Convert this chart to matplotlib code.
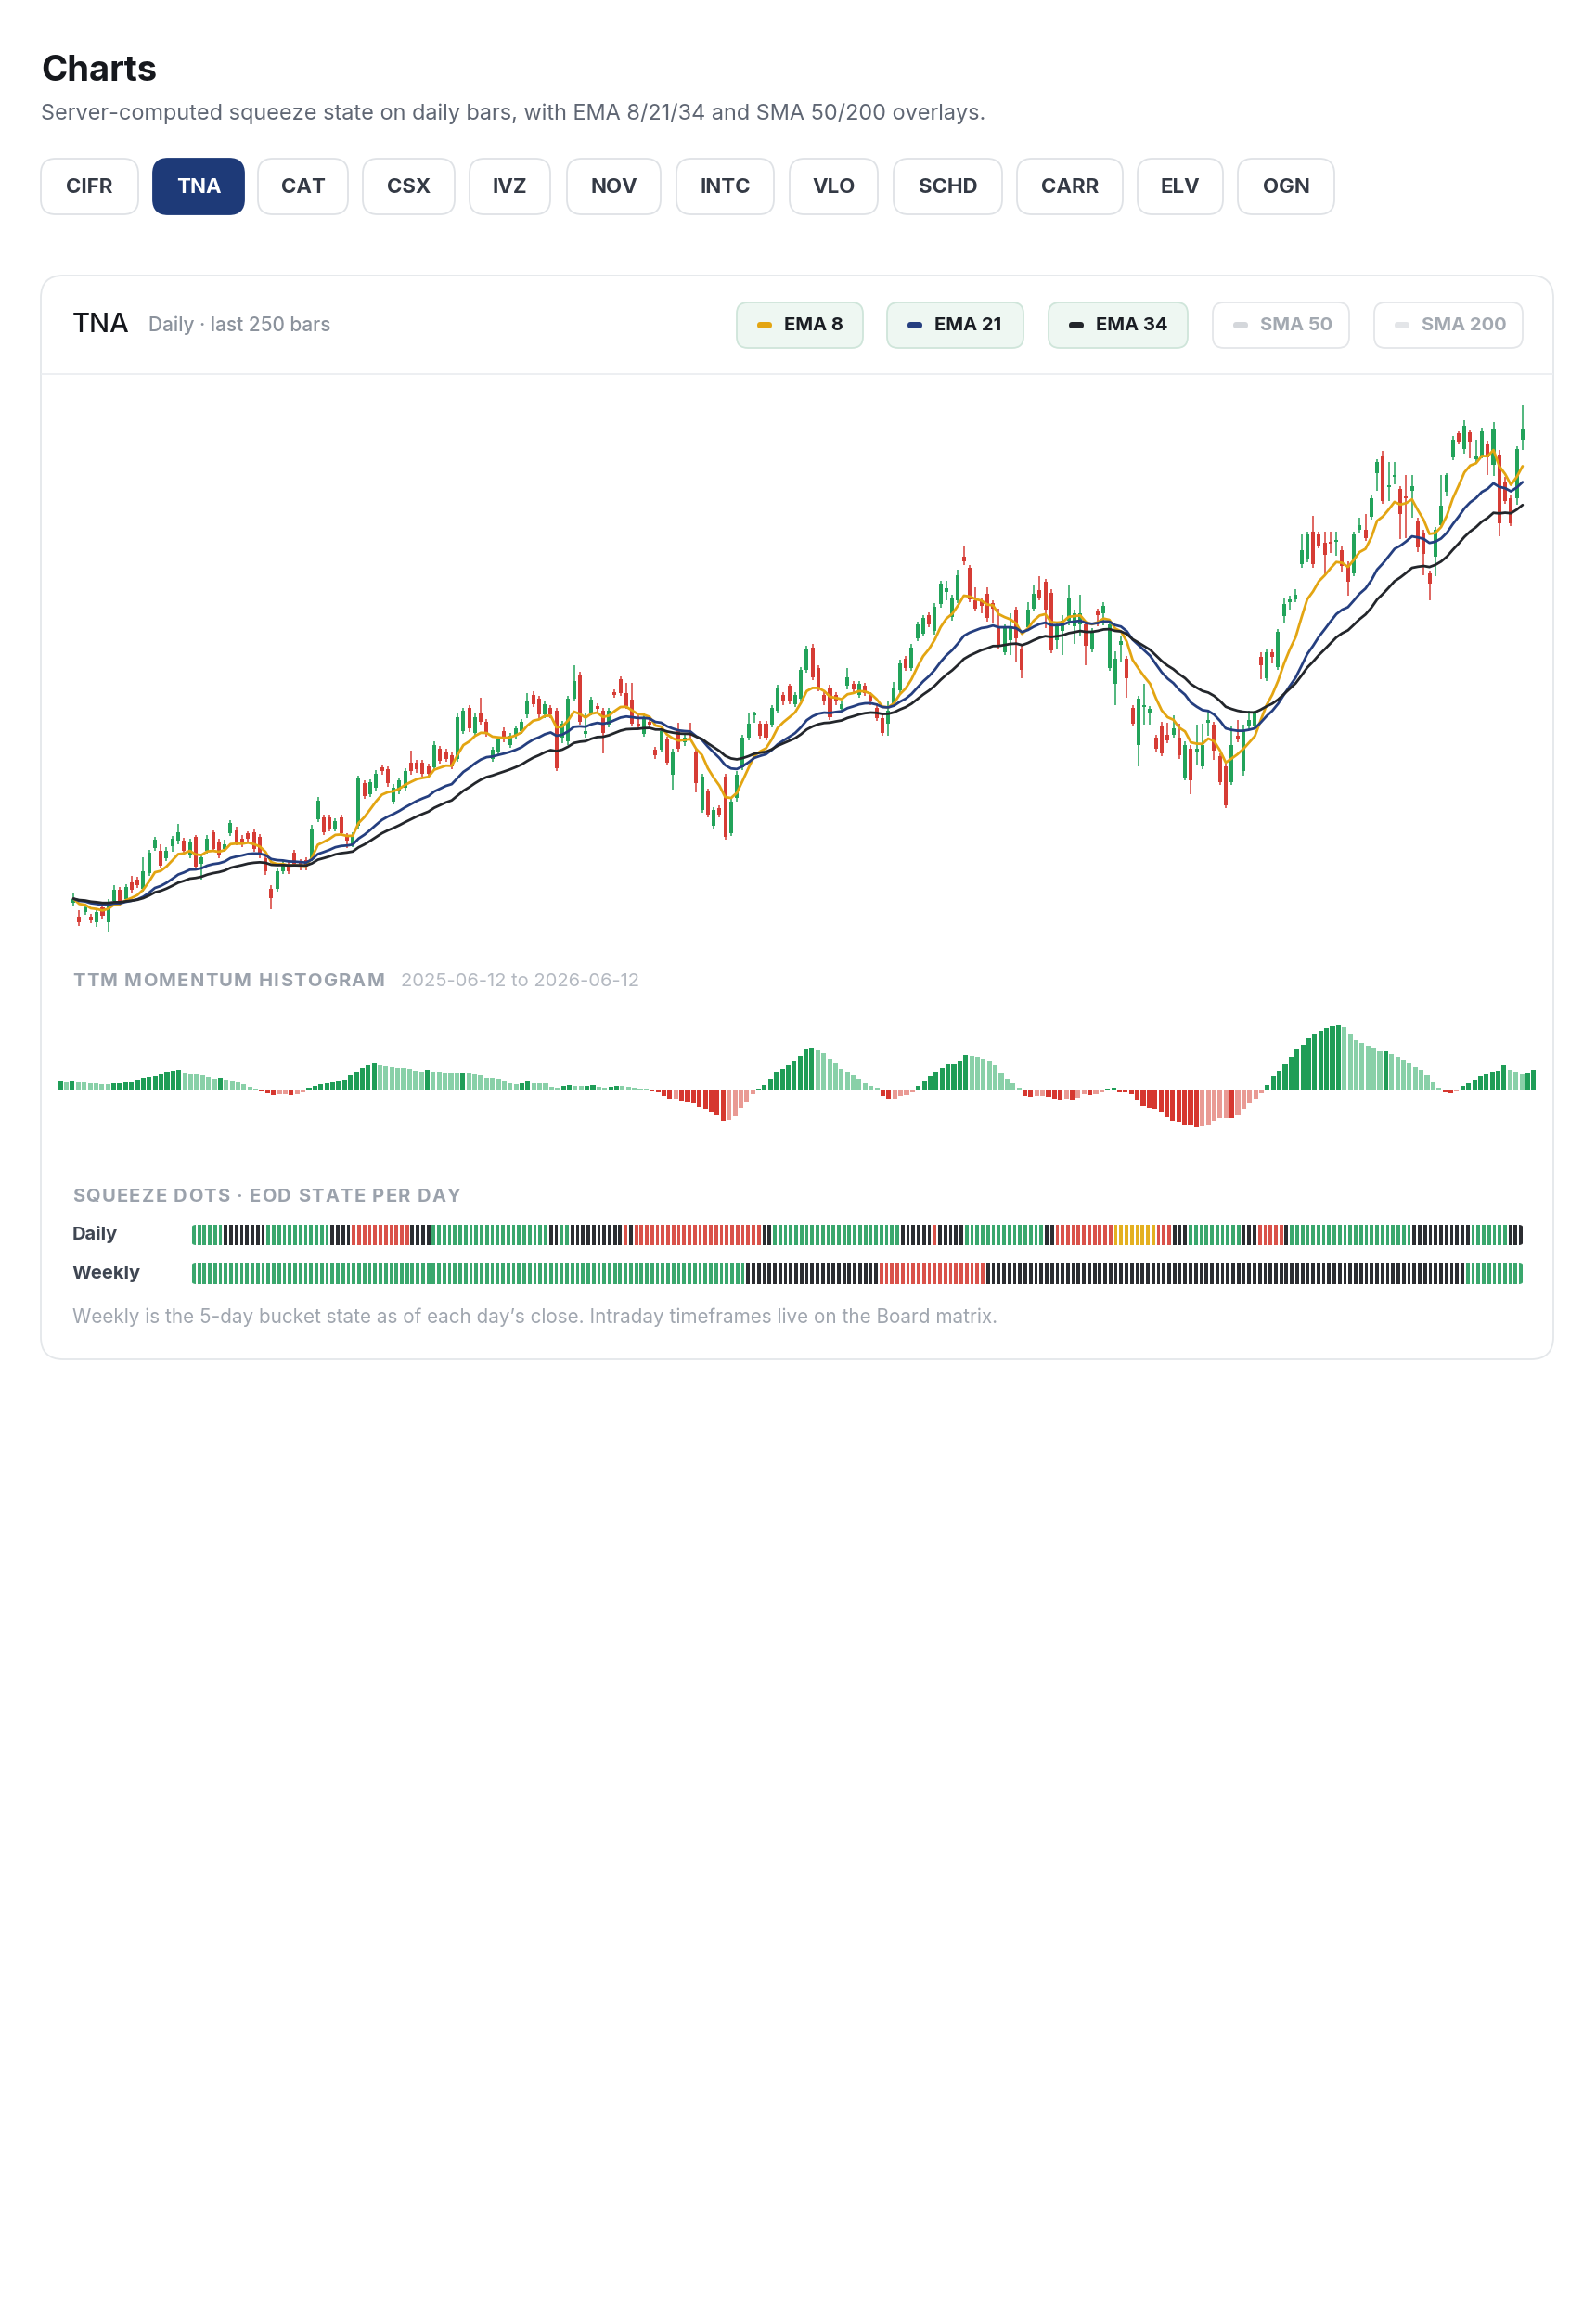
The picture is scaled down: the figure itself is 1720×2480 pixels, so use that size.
import matplotlib
matplotlib.use('Agg')
import matplotlib.pyplot as plt
from matplotlib.patches import FancyBboxPatch
import numpy as np
import pandas as pd

plt.rcParams['font.family'] = ['Inter', 'DejaVu Sans']

# ---------------- data ----------------
ticker = 'TNA'
tickers = ['CIFR', 'TNA', 'CAT', 'CSX', 'IVZ', 'NOV', 'INTC', 'VLO', 'SCHD', 'CARR', 'ELV', 'OGN']
date_range = '2025-06-12 to 2026-06-12'

opens = [36.4, 35.0, 35.5, 35.0, 34.4, 35.9, 34.4, 36.6, 37.7, 36.8,
         38.4, 38.7, 37.8, 39.4, 41.9, 41.6, 40.9, 42.1, 42.6, 42.6,
         41.2, 43.0, 40.3, 41.6, 43.5, 42.5, 41.8, 43.4, 43.7, 42.8,
         43.4, 43.5, 43.0, 40.9, 37.8, 37.8, 39.6, 40.3, 41.4, 40.5,
         40.7, 40.9, 44.8, 45.0, 45.0, 43.9, 45.0, 43.1, 42.3, 44.1,
         48.4, 47.3, 48.0, 50.0, 49.8, 46.6, 47.6, 48.0, 50.5, 50.5,
         50.5, 50.1, 50.0, 51.9, 51.6, 51.2, 50.9, 53.7, 56.0, 53.5,
         55.5, 54.6, 50.9, 51.6, 53.7, 52.3, 53.2, 53.7, 55.3, 57.3,
         56.9, 55.3, 56.0, 55.7, 53.0, 52.6, 56.9, 59.3, 53.4, 55.5,
         56.2, 55.7, 54.3, 57.6, 58.9, 57.5, 56.8, 54.4, 53.4, 54.6,
         51.8, 51.8, 52.8, 49.3, 53.7, 52.5, 53.7, 51.6, 45.7, 47.6,
         44.1, 45.9, 49.1, 43.4, 46.9, 50.0, 53.0, 55.2, 54.4, 54.4,
         54.3, 55.7, 57.3, 58.2, 56.4, 56.9, 59.8, 62.1, 60.0, 57.3,
         58.0, 57.3, 55.9, 58.2, 58.4, 57.3, 58.2, 57.3, 56.0, 55.0,
         54.4, 56.4, 57.8, 60.9, 60.0, 63.0, 63.5, 65.3, 63.7, 66.4,
         67.7, 65.1, 66.8, 71.2, 70.1, 66.8, 66.8, 67.5, 66.5, 64.1,
         61.6, 62.8, 65.9, 61.9, 64.1, 66.0, 67.8, 68.7, 67.6, 62.8,
         63.7, 64.8, 64.2, 64.4, 64.4, 61.9, 65.7, 65.5, 60.0, 58.4,
         62.3, 60.9, 56.0, 52.3, 56.1, 55.5, 53.0, 54.1, 53.3, 53.3,
         53.0, 49.0, 51.9, 51.6, 50.1, 54.5, 54.3, 51.1, 50.1, 48.5,
         53.2, 49.6, 54.1, 54.1, 61.1, 59.0, 61.6, 60.1, 65.2, 66.6,
         66.9, 70.5, 70.9, 73.7, 73.4, 72.6, 72.7, 72.7, 71.9, 70.3,
         69.5, 73.9, 73.9, 75.2, 79.6, 81.4, 78.2, 79.2, 78.0, 77.3,
         77.8, 74.8, 73.6, 69.5, 71.2, 74.4, 77.7, 81.2, 83.6, 82.0,
         83.7, 81.0, 81.4, 82.5, 80.4, 81.5, 78.8, 77.1, 77.1, 83.0]

highs = [37.3, 35.6, 36.1, 35.3, 35.8, 36.3, 36.8, 38.2, 38.0, 38.3,
         39.1, 39.0, 41.0, 41.7, 43.0, 42.3, 42.0, 43.1, 44.3, 42.9,
         42.8, 43.2, 41.3, 43.2, 43.7, 42.8, 42.7, 44.7, 44.0, 43.2,
         43.6, 43.8, 43.3, 41.3, 38.2, 39.9, 40.6, 40.6, 41.7, 40.8,
         41.0, 44.2, 47.0, 45.3, 45.3, 44.9, 45.3, 43.4, 43.5, 49.2,
         48.7, 48.8, 49.7, 50.3, 50.1, 48.3, 49.0, 49.9, 51.7, 50.8,
         50.8, 50.4, 52.6, 52.2, 51.9, 51.5, 55.4, 56.0, 56.3, 55.4,
         57.0, 54.9, 52.1, 53.1, 54.0, 53.5, 54.2, 54.9, 57.5, 57.7,
         57.2, 56.7, 56.3, 56.0, 54.7, 57.2, 60.3, 59.6, 55.5, 57.1,
         56.5, 56.0, 56.0, 57.9, 59.2, 58.5, 58.5, 55.5, 55.4, 54.9,
         52.1, 54.0, 53.1, 51.9, 54.5, 53.3, 54.5, 51.9, 49.4, 47.9,
         46.0, 46.2, 49.4, 46.9, 49.6, 53.3, 55.5, 55.6, 54.7, 54.7,
         56.3, 58.3, 57.6, 58.4, 57.6, 60.1, 62.2, 62.4, 60.3, 57.6,
         58.3, 57.6, 56.7, 60.0, 58.7, 58.7, 58.5, 57.6, 56.5, 55.3,
         56.6, 58.6, 60.8, 61.2, 62.4, 64.7, 65.3, 65.6, 66.5, 68.8,
         68.8, 67.4, 69.9, 72.3, 70.4, 68.1, 67.1, 68.1, 66.8, 66.0,
         64.4, 65.5, 66.2, 62.2, 66.6, 68.3, 69.2, 69.0, 67.9, 64.7,
         65.3, 68.4, 65.9, 67.4, 64.7, 64.0, 66.0, 66.6, 64.7, 61.7,
         63.2, 61.2, 56.3, 57.2, 58.4, 56.2, 53.3, 54.6, 54.5, 55.2,
         54.4, 52.6, 52.3, 54.3, 54.4, 55.7, 54.6, 51.4, 50.4, 54.1,
         54.8, 54.3, 55.7, 55.7, 61.6, 62.0, 61.9, 63.9, 67.0, 67.3,
         67.9, 73.4, 73.7, 75.3, 73.7, 73.7, 73.7, 73.7, 72.3, 70.7,
         73.7, 75.1, 75.5, 77.4, 81.0, 81.8, 80.7, 80.7, 78.3, 79.4,
         79.4, 75.1, 73.9, 69.8, 74.2, 79.4, 79.6, 83.3, 83.9, 84.9,
         84.0, 83.0, 84.2, 82.9, 84.7, 81.9, 79.2, 77.4, 82.3, 86.4]

lows = [36.1, 34.1, 35.2, 34.3, 34.0, 34.8, 33.5, 36.3, 36.1, 36.5,
        37.4, 37.9, 37.5, 39.1, 41.6, 39.8, 40.6, 41.5, 42.3, 41.3,
        40.9, 39.7, 38.7, 41.3, 41.5, 40.9, 41.5, 43.1, 42.2, 42.0,
        42.5, 41.5, 40.9, 39.2, 35.7, 37.5, 39.3, 39.3, 40.0, 39.7,
        39.7, 40.6, 44.5, 43.2, 43.6, 43.6, 43.1, 41.9, 42.0, 43.8,
        46.8, 47.0, 47.7, 49.3, 48.1, 46.3, 47.3, 47.7, 49.3, 49.5,
        49.1, 49.1, 49.7, 50.4, 50.6, 49.8, 50.6, 53.4, 53.6, 53.2,
        54.3, 53.1, 50.6, 51.3, 52.5, 52.0, 52.9, 53.4, 55.0, 56.1,
        55.0, 55.0, 55.0, 49.6, 52.4, 52.3, 56.6, 54.3, 53.0, 55.2,
        55.5, 51.4, 54.0, 57.0, 57.2, 55.9, 54.1, 53.8, 53.1, 54.0,
        50.9, 51.5, 50.2, 47.8, 51.6, 52.2, 52.9, 47.5, 45.4, 45.0,
        43.8, 45.0, 42.7, 43.1, 46.6, 49.7, 52.7, 54.5, 52.9, 52.7,
        54.0, 55.4, 56.3, 56.4, 56.1, 56.6, 59.5, 58.8, 57.7, 56.3,
        54.8, 56.3, 55.6, 57.9, 57.6, 57.0, 57.2, 56.3, 54.7, 53.2,
        53.2, 56.1, 57.5, 59.7, 59.7, 62.7, 63.2, 64.1, 63.4, 66.1,
        66.8, 64.8, 66.5, 70.4, 66.6, 65.7, 65.5, 64.7, 64.5, 62.0,
        61.3, 61.3, 60.7, 59.0, 63.8, 65.7, 66.8, 64.0, 61.5, 62.0,
        61.3, 64.3, 62.4, 63.2, 60.3, 61.6, 64.2, 64.3, 59.7, 56.3,
        60.7, 57.0, 54.1, 50.1, 54.3, 54.3, 51.6, 51.1, 52.4, 53.0,
        50.9, 48.7, 47.3, 50.3, 49.8, 53.2, 50.8, 48.2, 45.9, 48.2,
        52.5, 49.2, 53.8, 53.8, 58.9, 58.7, 60.5, 59.8, 64.6, 65.9,
        66.6, 70.1, 70.6, 70.1, 72.0, 69.4, 71.6, 71.3, 69.6, 67.3,
        69.2, 73.6, 72.8, 74.9, 77.8, 76.5, 76.8, 78.5, 73.0, 73.1,
        75.1, 71.7, 69.3, 66.8, 69.2, 74.1, 77.3, 80.9, 82.5, 81.6,
        81.1, 80.7, 81.1, 79.4, 79.3, 73.3, 76.5, 74.3, 76.4, 81.9]

closes = [36.8, 34.4, 35.9, 34.6, 35.5, 35.1, 36.4, 37.7, 36.4, 38.0,
          37.7, 38.2, 39.6, 41.4, 42.7, 40.1, 41.6, 42.8, 43.5, 41.6,
          42.5, 40.0, 41.0, 42.8, 41.8, 41.2, 42.3, 44.4, 42.5, 42.3,
          42.8, 41.8, 41.2, 39.6, 36.9, 39.6, 40.3, 39.6, 40.3, 40.0,
          40.0, 43.9, 46.7, 43.5, 43.9, 44.6, 43.4, 42.6, 43.2, 48.9,
          47.1, 48.5, 49.4, 49.6, 48.4, 48.0, 48.7, 49.6, 49.6, 49.8,
          49.4, 49.4, 52.3, 50.7, 50.9, 50.1, 55.1, 55.7, 53.9, 55.1,
          54.6, 53.4, 51.8, 52.8, 52.8, 53.2, 53.9, 54.6, 56.6, 56.4,
          55.3, 56.4, 55.3, 49.9, 54.4, 56.9, 58.7, 54.6, 53.7, 56.8,
          55.9, 53.5, 55.7, 57.3, 57.5, 56.2, 54.4, 54.1, 55.1, 54.3,
          51.2, 53.7, 50.5, 51.6, 51.9, 53.0, 53.2, 48.4, 49.1, 45.3,
          45.7, 45.3, 43.0, 46.6, 49.3, 53.0, 54.4, 55.4, 53.2, 53.0,
          56.0, 58.0, 56.6, 56.7, 57.3, 59.8, 61.9, 59.1, 58.0, 56.6,
          55.1, 56.6, 56.4, 59.1, 57.9, 58.4, 57.5, 56.6, 55.0, 53.5,
          55.7, 58.0, 60.5, 60.0, 62.1, 64.4, 65.0, 64.4, 66.2, 68.5,
          68.0, 67.1, 69.3, 70.7, 66.9, 66.0, 66.3, 65.0, 66.0, 62.3,
          64.1, 64.1, 63.0, 59.8, 65.9, 67.5, 67.1, 65.9, 61.8, 64.4,
          64.8, 67.0, 65.5, 65.5, 62.2, 63.7, 65.3, 66.3, 64.4, 60.9,
          62.7, 59.0, 54.4, 56.9, 56.3, 55.9, 51.9, 51.4, 52.7, 53.9,
          51.2, 52.3, 48.7, 51.9, 52.3, 54.8, 51.7, 48.5, 46.2, 52.3,
          52.8, 53.7, 54.8, 55.4, 60.3, 61.6, 61.1, 63.6, 66.4, 66.9,
          67.4, 71.9, 73.4, 70.5, 72.3, 71.4, 72.5, 72.9, 70.3, 68.7,
          73.4, 74.4, 73.1, 77.1, 80.7, 76.8, 78.4, 79.4, 75.5, 77.1,
          78.3, 72.1, 71.5, 68.5, 73.9, 76.3, 79.4, 83.0, 82.8, 84.4,
          82.8, 81.4, 83.9, 81.2, 84.1, 74.6, 76.8, 74.6, 82.0, 84.1]

momentum = [2.9, 2.7, 2.9, 2.8, 2.7, 2.4, 2.3, 2.25, 2.2, 2.5,
            2.55, 2.6, 2.7, 3.2, 4.0, 4.2, 4.5, 5.2, 6.0, 6.3,
            6.5, 5.6, 5.2, 5.0, 4.7, 4.1, 3.7, 3.9, 3.2, 3.0,
            2.6, 2.0, 1.0, 0.4, -0.4, -1.0, -1.4, -1.3, -1.2, -1.5,
            -1.1, -0.5, 0.5, 1.4, 2.0, 2.3, 2.7, 3.0, 3.4, 4.9,
            6.1, 7.1, 8.1, 8.6, 8.2, 7.7, 7.5, 7.3, 7.1, 7.0,
            6.3, 5.9, 6.5, 6.1, 5.9, 5.7, 5.4, 5.3, 5.6, 5.3,
            5.2, 4.7, 4.0, 3.8, 3.5, 3.0, 2.4, 2.2, 2.5, 2.9,
            2.4, 2.35, 2.3, 0.8, 0.5, 1.1, 1.7, 1.6, 1.2, 1.6,
            1.7, 0.9, 0.6, 1.0, 1.4, 1.3, 0.9, 0.5, 0.4, 0.25,
            -0.3, -0.7, -1.8, -3.1, -2.9, -3.5, -3.9, -4.3, -5.3, -6.0,
            -6.8, -8.2, -9.8, -9.6, -8.3, -5.8, -3.8, -1.3, 0.4, 1.7,
            3.7, 5.9, 6.9, 8.2, 9.5, 11.2, 13.2, 13.4, 13.0, 11.9,
            10.2, 8.6, 7.0, 5.9, 4.7, 3.5, 2.5, 1.5, 0.6, -1.8,
            -2.8, -2.6, -1.9, -1.4, -0.6, 1.1, 2.9, 4.4, 5.9, 7.2,
            8.3, 8.4, 9.7, 11.3, 11.1, 10.7, 10.2, 9.2, 8.0, 5.4,
            3.7, 2.4, 0.7, -1.9, -2.2, -1.8, -1.7, -2.0, -3.0, -3.2,
            -3.1, -3.2, -2.3, -1.3, -1.6, -1.1, -0.6, 0.4, 0.6, -0.6,
            -0.7, -1.3, -3.3, -5.1, -5.7, -6.1, -7.3, -8.6, -9.8, -10.1,
            -11.0, -11.4, -12.1, -11.6, -11.1, -9.8, -9.1, -8.9, -9.1, -8.0,
            -6.0, -4.3, -2.8, -0.9, 1.7, 4.5, 6.3, 8.3, 10.7, 13.1,
            14.7, 16.9, 18.4, 19.3, 20.2, 20.8, 20.9, 20.3, 18.2, 16.2,
            15.4, 14.5, 13.4, 12.5, 12.7, 11.6, 10.8, 10.0, 8.8, 7.6,
            6.5, 4.7, 2.7, 0.5, -0.5, -0.8, -0.4, 1.3, 2.4, 3.4,
            4.4, 5.1, 6.1, 6.4, 8.1, 6.5, 5.9, 5.1, 5.5, 6.7]

# squeeze state runs: (state, number of days); g=no squeeze, k=squeeze on, r=fired short, y=yellow
daily_runs = [('g', 6), ('k', 8), ('g', 12), ('k', 4), ('r', 11), ('k', 4), ('g', 22), ('k', 2),
              ('g', 2), ('k', 10), ('r', 1), ('k', 1), ('r', 24), ('k', 2), ('g', 24), ('k', 6),
              ('r', 1), ('k', 5), ('g', 15), ('k', 2), ('r', 11), ('y', 8), ('r', 3), ('k', 3),
              ('g', 10), ('k', 3), ('r', 5), ('k', 1), ('g', 23), ('k', 11), ('g', 7), ('k', 3)]
weekly_runs = [('g', 104), ('k', 25), ('r', 20), ('k', 90), ('g', 11)]

ema_periods = [8, 21, 34]
legend_items = ['EMA 8', 'EMA 21', 'EMA 34', 'SMA 50', 'SMA 200']
legend_active = [True, True, True, False, False]

# ---------------- styles ----------------
C_UP, C_DN = '#22a35a', '#d63c35'
EMA_COLORS = {8: '#e3a512', 21: '#253f80', 34: '#23262b'}
LEG_COLORS = ['#e3a512', '#253f80', '#23262b', '#d4d7db', '#e3e5e8']
H_DG, H_LG, H_DR, H_LR = '#1f9d57', '#89d0a8', '#d6372f', '#e99a94'
SQ = {'g': '#3aa76d', 'k': '#2b2d31', 'r': '#d9524a', 'y': '#e4b021'}

W, H = 1720, 2480
fig = plt.figure(figsize=(W / 100, H / 100), dpi=100)
fig.patch.set_facecolor('white')

ui = fig.add_axes([0, 0, 1, 1])
ui.set_xlim(0, W)
ui.set_ylim(H, 0)
ui.axis('off')
renderer = fig.canvas.get_renderer()


def rbox(x0, y0, x1, y1, r, fc, ec, lw=1.1, z=1):
    p = FancyBboxPatch((x0, y0), x1 - x0, y1 - y0,
                       boxstyle=f"round,pad=0,rounding_size={r}",
                       fc=fc, ec=ec, lw=lw, zorder=z)
    ui.add_patch(p)
    return p


def px_axes(x0, y0, x1, y1):
    a = fig.add_axes([x0 / W, 1 - y1 / H, (x1 - x0) / W, (y1 - y0) / H])
    a.patch.set_alpha(0)
    a.axis('off')
    return a


def tracked(x, y, s, spacing, **kw):
    """Text with letter spacing (in px)."""
    probe = ui.text(0, 0, 'x x', **kw)
    w_xx = probe.get_window_extent(renderer).width
    probe.set_text('xx')
    w_space = w_xx - probe.get_window_extent(renderer).width
    probe.remove()
    for ch in s:
        if ch == ' ':
            x += w_space + spacing
            continue
        t = ui.text(x, y, ch, **kw)
        x += t.get_window_extent(renderer).width + spacing


# ---------------- header ----------------
ui.text(44, 87, 'Charts', fontsize=27.5, fontweight='bold', color='#16181d', va='baseline')
ui.text(44, 129, 'Server-computed squeeze state on daily bars, with EMA 8/21/34 and SMA 50/200 overlays.',
        fontsize=16.9, color='#5f6673', va='baseline')

btn_x = [(44, 149), (165, 263), (278, 375), (391, 490), (506, 593), (611, 712),
         (729, 834), (851, 946), (963, 1080), (1096, 1210), (1226, 1318), (1334, 1438)]
for name, (x0, x1) in zip(tickers, btn_x):
    act = name == ticker
    rbox(x0, 171, x1, 231, 16, '#1e3a78' if act else 'white', '#1e3a78' if act else '#dfe2e6', lw=1.3)
    ui.text((x0 + x1) / 2, 202, name, fontsize=16, fontweight='bold',
            color='white' if act else '#343a45', ha='center', va='center', zorder=3)

# ---------------- card ----------------
rbox(44, 297, 1674, 1465, 24, 'white', '#e4e7ea', lw=1.3, z=0.5)
ui.plot([45, 1673], [403, 403], color='#eceef1', lw=1.3, zorder=1)
ui.text(78, 350, ticker, fontsize=21, color='#15171c', va='center', fontweight='medium')
ui.text(160, 351, 'Daily · last 250 bars', fontsize=15, color='#8b929c', va='center', fontweight='medium')

pill_x = [(794, 930), (956, 1103), (1130, 1280), (1307, 1454), (1481, 1641)]
for lab, col, act, (x0, x1) in zip(legend_items, LEG_COLORS, legend_active, pill_x):
    rbox(x0, 326, x1, 375, 12, '#eef7f2' if act else 'white', '#cfe5da' if act else '#e4e6e9', lw=1.3)
    rbox(x0 + 22, 347, x0 + 38, 354, 3.5, col, col, lw=0, z=2)
    ui.text(x0 + 51, 351, lab, fontsize=14.5, fontweight='bold',
            color='#1b1e24' if act else '#a3a9b1', va='center', zorder=3)

# ---------------- price chart ----------------
o = np.array(opens); h = np.array(highs); l = np.array(lows); c = np.array(closes)
idx = np.arange(len(c))
up = c >= o
cols = np.where(up, C_UP, C_DN)
ax = px_axes(76, 420, 1644, 1015)
ax.set_xlim(-0.5, len(c) - 0.5)
ax.set_ylim(32.47, 88.0)
ax.vlines(idx, l, h, colors=cols, lw=1.1, zorder=2)
ax.bar(idx, np.maximum(np.abs(c - o), 0.15), bottom=np.minimum(o, c), width=0.64,
       color=cols, zorder=3, linewidth=0)
close_s = pd.Series(c)
for n in ema_periods:
    ema = close_s.ewm(span=n, adjust=False).mean()
    ax.plot(idx, ema, color=EMA_COLORS[n], lw=2.0, zorder=5, solid_capstyle='round')

# ---------------- histogram ----------------
tracked(78, 1058, 'TTM MOMENTUM HISTOGRAM', 1.3, fontsize=14.5, fontweight='bold', color='#9ba2ac', va='center')
ui.text(432, 1058, date_range, fontsize=14.5, color='#b4b9c1', va='center')
m = np.array(momentum)
prev = np.concatenate([[m[0] - 1 if m[0] > 0 else m[0] + 1], m[:-1]])
hcols = []
for v, p in zip(m, prev):
    if v >= 0:
        hcols.append(H_DG if v > p else H_LG)
    else:
        hcols.append(H_DR if v < p else H_LR)
axh = px_axes(62, 1090, 1656, 1230)
axh.set_xlim(-0.5, len(m) - 0.5)
axh.set_ylim(-16.5, 25.5)
axh.bar(np.arange(len(m)), m, width=0.8, color=hcols, linewidth=0)

# ---------------- squeeze dots ----------------
tracked(78, 1290, 'SQUEEZE DOTS · EOD STATE PER DAY', 1.3, fontsize=14.5, fontweight='bold',
        color='#9ba2ac', va='center')
for lab, runs, (y0, y1) in [('Daily', daily_runs, (1320, 1342)), ('Weekly', weekly_runs, (1361, 1384))]:
    ui.text(78, (y0 + y1) / 2, lab, fontsize=14.5, fontweight='bold', color='#3f4652', va='center')
    states = np.concatenate([[s] * n for s, n in runs])
    a = px_axes(206, y0, 1642, y1)
    a.set_xlim(-0.5, len(states) - 0.5)
    a.set_ylim(0, 1)
    bars = a.bar(np.arange(len(states)), 1, width=0.66, color=[SQ[s] for s in states], linewidth=0)
    clip = FancyBboxPatch((206, y0), 1642 - 206, y1 - y0, boxstyle="round,pad=0,rounding_size=5",
                          fc='none', ec='none', transform=ui.transData)
    for b in bars:
        b.set_clip_path(clip)

ui.text(78, 1420, 'Weekly is the 5-day bucket state as of each day\u2019s close. Intraday timeframes live on the Board matrix.',
        fontsize=14.9, color='#a0a6af', va='center')

fig.savefig('out.png', dpi=100, facecolor='white')
